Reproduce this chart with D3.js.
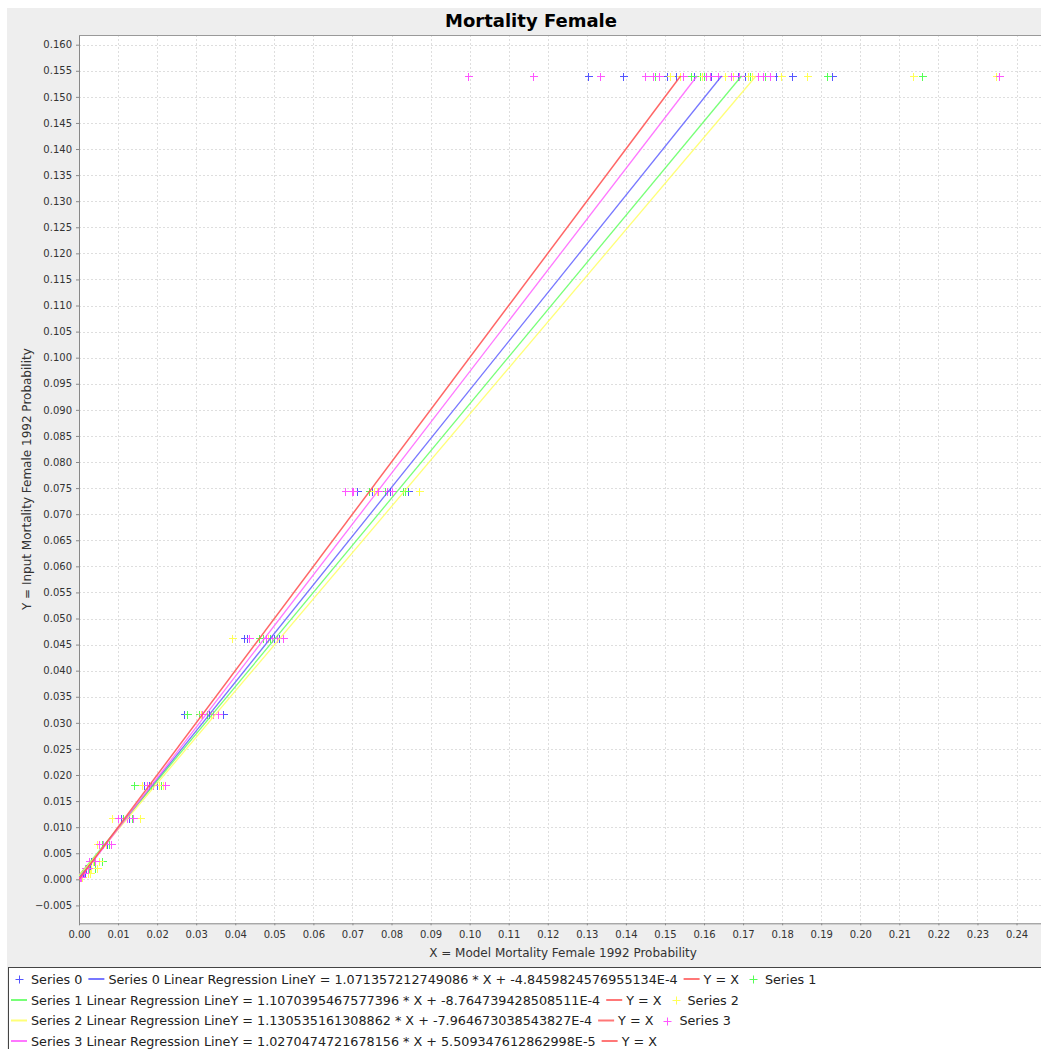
<!DOCTYPE html>
<html>
<head>
<meta charset="utf-8">
<script src="https://cdn.jsdelivr.net/npm/d3@7"></script>
<style>
  body { margin: 0; background: #ffffff; }
  text { font-family: "DejaVu Sans", sans-serif; }
</style>
</head>
<body>
<div id="chart"></div>
<script>
// input mortality levels (Y) shared by every series
var yLevels = [0.154, 0.0745, 0.0463, 0.0317, 0.018, 0.0118, 0.0068, 0.0035, 0.0022, 0.0012, 0.0004];

// model values (X) for each series, one list per y level
var series0X = [
  [0.1302, 0.1393, 0.1504, 0.1527, 0.1575, 0.1619, 0.1688, 0.1705, 0.1784, 0.1826, 0.1927],
  [0.0712, 0.0749, 0.0796, 0.0843],
  [0.0422, 0.0429, 0.0499, 0.0513],
  [0.0269, 0.0334, 0.0369],
  [0.0166, 0.0180, 0.0199],
  [0.0107, 0.0129],
  [0.0060, 0.0072],
  [0.0030, 0.0042],
  [0.0018, 0.0028],
  [0.0010, 0.0016],
  [0.0004]
];
var series1X = [
  [0.1474, 0.1566, 0.1590, 0.1600, 0.1717, 0.1756, 0.1914, 0.2159],
  [0.0743, 0.0783, 0.0830, 0.0834],
  [0.0461, 0.0470, 0.0490],
  [0.0277, 0.0308, 0.0328],
  [0.0142, 0.0185, 0.0210],
  [0.0112, 0.0135],
  [0.0058, 0.0078],
  [0.0038, 0.0058],
  [0.0025, 0.0040],
  [0.0014],
  [0.0005]
];
var series2X = [
  [0.1513, 0.1538, 0.1595, 0.1653, 0.1675, 0.1713, 0.1722, 0.1798, 0.1864, 0.2134, 0.2347],
  [0.0755, 0.0762, 0.0870],
  [0.0392, 0.0485, 0.0508],
  [0.0312, 0.0338],
  [0.0160, 0.0205, 0.0215],
  [0.0084, 0.0156],
  [0.0045, 0.0068],
  [0.0035, 0.0050],
  [0.0030, 0.0045],
  [0.0022, 0.0028],
  [0.0008]
];
var series3X = [
  [0.0997, 0.1161, 0.1334, 0.1449, 0.1470, 0.1485, 0.1545, 0.1605, 0.1615, 0.1636, 0.1669, 0.1690, 0.1739, 0.1752, 0.1769, 0.2355],
  [0.0681, 0.0700, 0.0702, 0.0765, 0.0788, 0.0800],
  [0.0436, 0.0479, 0.0493, 0.0506, 0.0521],
  [0.0314, 0.0342, 0.0357],
  [0.0173, 0.0190, 0.0220],
  [0.0101, 0.0122, 0.0139],
  [0.0052, 0.0062, 0.0081],
  [0.0025, 0.0040],
  [0.0015, 0.0022],
  [0.0008, 0.0013],
  [0.0002, 0.0004]
];

var seriesNames = ["Series 0", "Series 1", "Series 2", "Series 3"];
// regression coefficients as printed in the legend
var slopes = ["1.071357212749086", "1.1070395467577396", "1.130535161308862", "1.0270474721678156"];
var intercepts = ["-4.8459824576955134E-4", "-8.764739428508511E-4", "-7.964673038543827E-4", "5.509347612862998E-5"];
var lineRange = [0, 0.154];

var xTicks = [0, 0.01, 0.02, 0.03, 0.04, 0.05, 0.06, 0.07, 0.08, 0.09, 0.10, 0.11, 0.12,
  0.13, 0.14, 0.15, 0.16, 0.17, 0.18, 0.19, 0.20, 0.21, 0.22, 0.23, 0.24];
var yTicks = [-0.005, 0, 0.005, 0.010, 0.015, 0.020, 0.025, 0.030, 0.035, 0.040, 0.045, 0.050,
  0.055, 0.060, 0.065, 0.070, 0.075, 0.080, 0.085, 0.090, 0.095, 0.100, 0.105, 0.110,
  0.115, 0.120, 0.125, 0.130, 0.135, 0.140, 0.145, 0.150, 0.155, 0.160];

var colors = ["#5555ff", "#55ff55", "#ffff55", "#ff55ff"];
var identityColor = "#ff5555";

var svgWidth = 1041;
var svgHeight = 1049;

// plot area (right edge runs past the window, as in the original)
var plot = { left: 79, top: 35, right: 1047, bottom: 923.3 };

var svg = d3.select("#chart")
  .append("svg")
  .attr("width", svgWidth)
  .attr("height", svgHeight);

// chart background
svg.append("rect")
  .attr("x", 7).attr("y", 8)
  .attr("width", 1100).attr("height", 1100)
  .style("fill", "#eeeeee");

// title
svg.append("text")
  .attr("x", 531).attr("y", 27)
  .attr("text-anchor", "middle")
  .style("font-size", "18px")
  .style("font-weight", "bold")
  .style("fill", "#000")
  .text("Mortality Female");

var xScale = d3.scaleLinear()
  .domain([0, 0.2478])
  .range([plot.left, plot.right]);
var yScale = d3.scaleLinear()
  .domain([-0.00843, 0.16186])
  .range([plot.bottom, plot.top]);

svg.append("defs").append("clipPath")
  .attr("id", "plotClip")
  .append("rect")
  .attr("x", plot.left).attr("y", plot.top)
  .attr("width", plot.right - plot.left).attr("height", plot.bottom - plot.top);

svg.append("rect")
  .attr("x", plot.left).attr("y", plot.top)
  .attr("width", plot.right - plot.left).attr("height", plot.bottom - plot.top)
  .style("fill", "#ffffff");

// dashed gridlines
var grid = svg.append("g").attr("clip-path", "url(#plotClip)");
grid.selectAll(".gx")
  .data(xTicks)
  .enter()
  .append("line")
  .attr("x1", d => Math.round(xScale(d)) + 0.5)
  .attr("x2", d => Math.round(xScale(d)) + 0.5)
  .attr("y1", plot.top).attr("y2", plot.bottom)
  .style("stroke", "#dedede")
  .style("stroke-dasharray", "2,2");
grid.selectAll(".gy")
  .data(yTicks)
  .enter()
  .append("line")
  .attr("y1", d => Math.round(yScale(d)) + 0.5)
  .attr("y2", d => Math.round(yScale(d)) + 0.5)
  .attr("x1", plot.left).attr("x2", plot.right)
  .style("stroke", "#dedede")
  .style("stroke-dasharray", "2,2");

// axes
var xAxis = d3.axisBottom(xScale)
  .tickValues(xTicks)
  .tickFormat(d3.format(".2f"))
  .tickSizeInner(2).tickSizeOuter(0).tickPadding(6);
var yAxis = d3.axisLeft(yScale)
  .tickValues(yTicks)
  .tickFormat(d3.format(".3f"))
  .tickSizeInner(3).tickSizeOuter(0).tickPadding(4);

var gx = svg.append("g")
  .attr("transform", `translate(0, ${plot.bottom})`)
  .call(xAxis);
var gy = svg.append("g")
  .attr("transform", `translate(${plot.left}, 0)`)
  .call(yAxis);

[gx, gy].forEach(function(g) {
  g.select(".domain").style("stroke", "#888888");
  g.selectAll(".tick line").style("stroke", "#888888");
  g.selectAll(".tick text")
    .style("font-size", "10px")
    .style("font-family", "DejaVu Sans, sans-serif")
    .style("fill", "#333333");
});

// top border of the plot
svg.append("line")
  .attr("x1", plot.left).attr("x2", plot.right)
  .attr("y1", plot.top + 0.5).attr("y2", plot.top + 0.5)
  .style("stroke", "#999999");

// axis labels
svg.append("text")
  .attr("x", (plot.left + plot.right) / 2)
  .attr("y", 957)
  .attr("text-anchor", "middle")
  .style("font-size", "12px")
  .style("fill", "#333")
  .text("X = Model Mortality Female 1992 Probability");

svg.append("text")
  .attr("transform", "rotate(-90)")
  .attr("x", -(plot.top + plot.bottom) / 2)
  .attr("y", 31)
  .attr("text-anchor", "middle")
  .style("font-size", "12px")
  .style("fill", "#333")
  .text("Y = Input Mortality Female 1992 Probability");

// scatter points drawn as "+"
var allSeries = [series0X, series1X, series2X, series3X];
var plotArea = svg.append("g").attr("clip-path", "url(#plotClip)");
var plusPath = "M-4,0H4M0,-4V4";

allSeries.forEach(function(sx, i) {
  var pts = [];
  sx.forEach(function(xs, k) {
    xs.forEach(function(x) { pts.push({ x: x, y: yLevels[k] }); });
  });
  plotArea.selectAll(".p" + i)
    .data(pts)
    .enter()
    .append("path")
    .attr("d", plusPath)
    .attr("transform", d => `translate(${Math.round(xScale(d.x)) + 0.5}, ${Math.round(yScale(d.y)) + 0.5})`)
    .style("stroke", colors[i])
    .style("stroke-width", 1)
    .style("fill", "none")
    .style("shape-rendering", "crispEdges");
});

// regression lines (X = a*Y + b) and Y = X
var regLine = d3.line()
  .x(d => xScale(d.x))
  .y(d => yScale(d.y));

slopes.forEach(function(s, i) {
  var a = +s, b = +intercepts[i];
  plotArea.append("path")
    .datum(lineRange.map(y => ({ x: a * y + b, y: y })))
    .attr("d", regLine)
    .style("fill", "none")
    .style("stroke", colors[i])
    .style("stroke-width", 1.3)
    .style("stroke-opacity", 0.8);
});
plotArea.append("path")
  .datum(lineRange.map(y => ({ x: y, y: y })))
  .attr("d", regLine)
  .style("fill", "none")
  .style("stroke", identityColor)
  .style("stroke-width", 1.5)
  .style("stroke-opacity", 0.9);

// legend
svg.append("rect")
  .attr("x", 8.5).attr("y", 967.5)
  .attr("width", 1100).attr("height", 120)
  .style("fill", "#ffffff")
  .style("stroke", "#444444");

var legendItems = [];
seriesNames.forEach(function(name, i) {
  legendItems.push({ type: "plus", color: colors[i], label: name });
  legendItems.push({ type: "line", color: colors[i],
    label: name + " Linear Regression LineY = " + slopes[i] + " * X + " + intercepts[i] });
  legendItems.push({ type: "line", color: identityColor, label: "Y = X" });
});
var legendRows = [[0, 1, 2, 3], [4, 5, 6], [7, 8, 9], [10, 11]];
var rowY = [979, 1000, 1020.5, 1041];

legendRows.forEach(function(row, r) {
  var cx = 11;
  row.forEach(function(idx) {
    var item = legendItems[idx];
    var g = svg.append("g");
    if (item.type === "plus") {
      g.append("path")
        .attr("d", plusPath)
        .attr("transform", `translate(${Math.round(cx + 8) + 0.5}, ${Math.round(rowY[r]) + 0.5})`)
        .style("stroke", item.color)
        .style("stroke-width", 1)
        .style("fill", "none");
    } else {
      g.append("line")
        .attr("x1", cx).attr("x2", cx + 16)
        .attr("y1", rowY[r]).attr("y2", rowY[r])
        .style("stroke", item.color)
        .style("stroke-width", 2)
        .style("stroke-opacity", 0.8);
    }
    var t = g.append("text")
      .attr("x", cx + 20)
      .attr("y", rowY[r] + 4.5)
      .style("font-size", "12.75px")
      .style("fill", "#222")
      .text(item.label);
    cx = cx + 20 + t.node().getComputedTextLength() + 6;
  });
});
</script>
</body>
</html>
